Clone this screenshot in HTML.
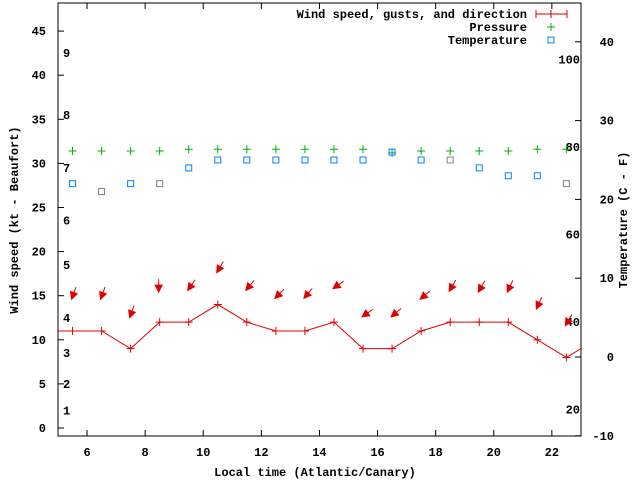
<!DOCTYPE html>
<html><head><meta charset="utf-8"><style>
body{margin:0;background:#fff}
svg text{font-family:"Liberation Mono","DejaVu Sans Mono",monospace;font-size:12px;font-weight:bold;fill:#000}
</style></head><body>
<svg id="chart" width="640" height="480" viewBox="0 0 640 480" xmlns="http://www.w3.org/2000/svg">
<rect x="0" y="0" width="640" height="480" fill="#fff"/>
<g id="axes"></g>
<g id="marks"></g>
<g>
<text x="527" y="18" text-anchor="end">Wind speed, gusts, and direction</text>
<g stroke="#e00000" stroke-width="1"><line x1="536" y1="14" x2="567" y2="14"/><line x1="536" y1="10" x2="536" y2="18"/><line x1="567" y1="10" x2="567" y2="18"/><line x1="551" y1="10" x2="551" y2="18"/></g>
<text x="527" y="31" text-anchor="end">Pressure</text>
<g stroke="#00b000"><line x1="547" y1="27" x2="555" y2="27"/><line x1="551" y1="23" x2="551" y2="31"/></g>
<text x="527" y="44" text-anchor="end">Temperature</text>
<rect x="548" y="37" width="6" height="6" fill="none" stroke="#0080ff"/>
</g>
<text x="315" y="476" text-anchor="middle">Local time (Atlantic/Canary)</text>
<text transform="translate(18,220) rotate(-90)" text-anchor="middle">Wind speed (kt - Beaufort)</text>
<text transform="translate(627,220) rotate(-90)" text-anchor="middle">Temperature (C - F)</text>
</svg>
<script>
const hours=[5.5,6.5,7.5,8.5,9.5,10.5,11.5,12.5,13.5,14.5,15.5,16.5,17.5,18.5,19.5,20.5,21.5,22.5];
const windSpeed=[11,11,9,12,12,14,12,11,11,12,9,9,11,12,12,12,10,8];
const windEndHour=23; const windEndSpeed=9;
const arrowKt=[14.6,14.6,12.5,15.4,15.6,17.6,15.6,14.7,14.7,15.8,12.6,12.6,14.6,15.5,15.4,15.4,13.5,11.6];
const windDir=[20,20,20,0,35,30,40,45,40,55,55,50,50,30,30,25,25,30];
const pressure=[31.4,31.4,31.4,31.4,31.6,31.6,31.6,31.6,31.6,31.6,31.6,31.2,31.4,31.4,31.4,31.4,31.6,31.6];
const tempC=[22,21,22,22,24,25,25,25,25,25,25,26,25,25,24,23,23,22];
const tempGrey=[0,1,0,1,0,0,0,0,0,0,0,0,0,1,0,0,0,1];
const xTicks=[6,8,10,12,14,16,18,20,22];
const yTicks=[0,5,10,15,20,25,30,35,40,45];
const y2Ticks=[-10,0,10,20,30,40];
const beaufort=[1,2,3,4,5,6,7,8,9];
const beaufortKt=[2,5,8.5,12.5,18.5,23.5,29.5,35.5,42.5];
const fahrenheit=[20,40,60,80,100];

const L=58,R=581,T=3,B=436;
const X=h=>L+(h-5)*29.05;
const Y=k=>428-k*8.82;
const YC=c=>357-c*7.88;
const YF=f=>YC((f-32)*5/9);
const NS="http://www.w3.org/2000/svg";
function mk(tag,attrs,parent,txt){const e=document.createElementNS(NS,tag);for(const k in attrs)e.setAttribute(k,attrs[k]);if(txt!==undefined)e.textContent=txt;parent.appendChild(e);return e;}
const ax=document.getElementById('axes'), mg=document.getElementById('marks');

let e=mk('rect',{x:L,y:T,width:R-L,height:B-T,fill:'none',stroke:'#000'},ax);


xTicks.forEach(t=>{const x=X(t);
 mk('line',{x1:x,y1:B,x2:x,y2:B-6,stroke:'#000'},ax);
 mk('line',{x1:x,y1:T,x2:x,y2:T+6,stroke:'#000'},ax);
 const tx=mk('text',{x:x,y:B+20,'text-anchor':'middle'},ax,String(t));
 
 
});
yTicks.forEach(t=>{const y=Y(t);
 mk('line',{x1:L,y1:y,x2:L+6,y2:y,stroke:'#000'},ax);
 const tx=mk('text',{x:L-12,y:y+4,'text-anchor':'end'},ax,String(t));
 
 
});
y2Ticks.forEach(t=>{const y=YC(t);
 mk('line',{x1:R,y1:y,x2:R-6,y2:y,stroke:'#000'},ax);
 const tx=mk('text',{x:R+33,y:y+4,'text-anchor':'end'},ax,String(t));
 
 
});
beaufort.forEach((b,i)=>{
 const tx=mk('text',{x:63,y:Y(beaufortKt[i])+4},ax,String(b));
 
 
});
fahrenheit.forEach(f=>{
 const tx=mk('text',{x:R-1,y:YF(f)+4,'text-anchor':'end'},ax,String(f));
 
 
});

// wind line
let pts=[[L,Y(windSpeed[0])]].concat(hours.map((h,i)=>[X(h),Y(windSpeed[i])])).concat([[X(windEndHour),Y(windEndSpeed)]]);
e=mk('polyline',{points:pts.map(p=>p.join(',')).join(' '),fill:'none',stroke:'#e00000','stroke-width':1},mg);


hours.forEach((h,i)=>{const x=X(h),y=Y(windSpeed[i]);
 const g=mk('path',{d:`M${x-4},${y}H${x+4}M${x},${y-4}V${y+4}`,stroke:'#e00000'},mg);
 
 
 // arrow
 const tx=x-1,ty=Y(arrowKt[i]);const a=windDir[i]*Math.PI/180;
 const ux=Math.sin(a),uy=-Math.cos(a); // toward tail
 const len=13,hl=7,hw=3.5;
 const bx=tx+ux*hl,by=ty+uy*hl,px=-uy,py=ux;
 const ar=mk('g',{},mg);
 
 
 mk('line',{x1:tx,y1:ty,x2:tx+ux*len,y2:ty+uy*len,stroke:'#e00000'},ar);
 mk('polygon',{points:`${tx},${ty} ${bx+px*hw},${by+py*hw} ${bx-px*hw},${by-py*hw}`,fill:'#e00000',stroke:'#e00000'},ar);
 // pressure
 const px2=X(h),py2=Y(pressure[i]);
 const p=mk('path',{d:`M${px2-4},${py2}H${px2+4}M${px2},${py2-4}V${py2+4}`,stroke:'#00b000'},mg);
 
 
 // temp
 const ty2=YC(tempC[i]);
 const r=mk('rect',{x:X(h)-3,y:ty2-3,width:6,height:6,fill:'none',stroke:tempGrey[i]?'#808080':'#0080ff'},mg);
 
 
});
</script>
</body></html>
